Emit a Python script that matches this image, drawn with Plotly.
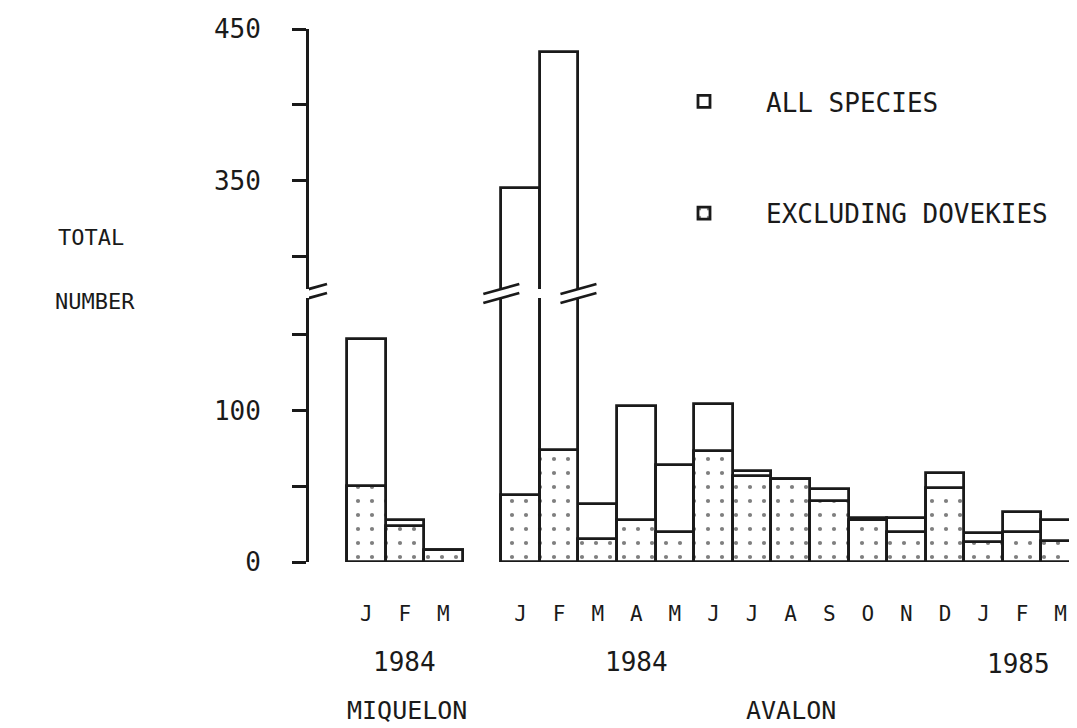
import plotly.graph_objects as go
from plotly.subplots import make_subplots

# ---------------- data ----------------
miquelon_months = ["J", "F", "M"]
miquelon_all = [147, 28, 8]
miquelon_excl = [50, 24, 8]

avalon_months = ["J", "F", "M", "A", "M", "J", "J", "A", "S", "O", "N", "D", "J", "F", "M"]
avalon_all = [345, 435, 38, 103, 64, 104, 60, 55, 48, 29, 29, 59, 19, 33, 28]
avalon_excl = [44, 74, 15, 28, 20, 73, 57, 55, 40, 28, 20, 49, 13, 20, 14]

lower_ticks = [0, 50, 100, 150]
lower_ticktext = ["0", "", "100", ""]
upper_ticks = [300, 350, 400, 450]
upper_ticktext = ["", "350", "", "450"]

series_names = ["ALL SPECIES", "EXCLUDING DOVEKIES"]
y_title = ["TOTAL", "NUMBER"]
year_labels = ["1984", "1984", "1985"]
site_labels = ["MIQUELON", "AVALON"]

# ---------------- positions (slots) ----------------
gap_slots = 1
miq_x = list(range(len(miquelon_months)))
ava_start = len(miquelon_months) + gap_slots
ava_x = [ava_start + i for i in range(len(avalon_months))]
all_x = miq_x + ava_x
all_months = miquelon_months + avalon_months
all_vals = miquelon_all + avalon_all
excl_vals = miquelon_excl + avalon_excl

# ---------------- geometry ----------------
W, H = 1077, 728
ML, MR, MT, MB = 301, 3, 21, 174
plot_h = H - MT - MB
px_per_unit = 1.515
top_val = 450
upper_bottom_px = 281   # pixel (from top) where upper panel ends
lower_top_px = 290      # pixel where lower panel starts
bottom_px = H - MB

lower_hi = (bottom_px - lower_top_px) / px_per_unit
upper_lo = top_val - (upper_bottom_px - MT) / px_per_unit
lower_dom = [0, (bottom_px - lower_top_px) / plot_h]
upper_dom = [(bottom_px - upper_bottom_px) / plot_h, 1]

x_lo = -0.5 - 0.985
x_hi = len(all_x) + gap_slots - 0.5 + 0.052

FONT = "DejaVu Sans Mono"
INK = "#1a1a1a"

fig = make_subplots(rows=2, cols=1, shared_xaxes=True, vertical_spacing=0)

for row in (1, 2):
    fig.add_trace(go.Bar(
        x=all_x, y=all_vals, width=1, name=series_names[0],
        marker=dict(color="white", line=dict(color=INK, width=2.8)),
        showlegend=(row == 2), legendgroup="a", hoverinfo="skip"), row=row, col=1)
    fig.add_trace(go.Bar(
        x=all_x, y=excl_vals, width=1, name=series_names[1],
        marker=dict(color="white", line=dict(color=INK, width=2.8),
                    pattern=dict(shape=".", fgcolor="black", bgcolor="white",
                                 size=14, solidity=0.07)),
        showlegend=(row == 2), legendgroup="b", hoverinfo="skip"), row=row, col=1)

axis_common = dict(showgrid=False, zeroline=False, showline=True, linecolor=INK,
                   linewidth=2.8, ticks="outside", ticklen=14, tickwidth=2.8,
                   tickcolor=INK, tickfont=dict(family=FONT, size=26, color=INK),
                   ticklabelstandoff=26)

fig.update_yaxes(range=[upper_lo, top_val], domain=upper_dom, tickvals=upper_ticks,
                 ticktext=upper_ticktext, row=1, col=1, **axis_common)
fig.update_yaxes(range=[0, lower_hi], domain=lower_dom, tickvals=lower_ticks,
                 ticktext=lower_ticktext, row=2, col=1, **axis_common)

fig.update_xaxes(range=[x_lo, x_hi], showgrid=False, zeroline=False, showline=False,
                 ticks="", showticklabels=False, row=1, col=1)
fig.update_xaxes(range=[x_lo, x_hi], showgrid=False, zeroline=False, showline=False,
                 ticks="", tickvals=all_x, ticktext=all_months,
                 tickfont=dict(family=FONT, size=21, color=INK),
                 ticklabelstandoff=37, row=2, col=1)

# break marks (//) on the y axis line and on the two clipped bars
def brk(xref, xanchor):
    for yanc in (upper_dom[0], lower_dom[1]):
        fig.add_shape(type="line", xref=xref, xsizemode="pixel", xanchor=xanchor,
                      x0=-18, x1=18, yref="paper", ysizemode="pixel", yanchor=yanc,
                      y0=-5, y1=5, line=dict(color=INK, width=2.8))

brk("x2", x_lo)
brk("x2", ava_x[0] - 0.5)
brk("x2", ava_x[1] + 0.5)

def py(pix):
    return (bottom_px - pix) / plot_h

def px_(pix):
    return (pix - ML) / (W - ML - MR)

ann = []
ann.append(dict(text=y_title[0], xref="paper", x=px_(118), xanchor="right",
                yref="paper", y=py(229), yanchor="middle", size=22))
ann.append(dict(text=y_title[1], xref="paper", x=px_(129), xanchor="right",
                yref="paper", y=py(293), yanchor="middle", size=22))
ann.append(dict(text=year_labels[0], xref="x2", x=miq_x[1], xanchor="center",
                yref="paper", y=py(654), yanchor="middle", size=26))
ann.append(dict(text=year_labels[1], xref="x2", x=7.0, xanchor="center",
                yref="paper", y=py(654), yanchor="middle", size=26))
ann.append(dict(text=year_labels[2], xref="x2", x=16.9, xanchor="center",
                yref="paper", y=py(656), yanchor="middle", size=26))
ann.append(dict(text=site_labels[0], xref="x2", x=1.05, xanchor="center",
                yref="paper", y=py(702), yanchor="middle", size=25))
ann.append(dict(text=site_labels[1], xref="x2", x=11.0, xanchor="center",
                yref="paper", y=py(702), yanchor="middle", size=25))
for a in ann:
    size = a.pop("size")
    fig.add_annotation(showarrow=False, font=dict(family=FONT, size=size, color=INK), **a)

fig.update_layout(
    width=W, height=H, margin=dict(l=ML, r=MR, t=MT, b=MB),
    paper_bgcolor="white", plot_bgcolor="white",
    barmode="overlay", bargap=0,
    font=dict(family=FONT, color=INK),
    legend=dict(x=px_(634), xanchor="left", y=py(70), yanchor="top",
                orientation="v", itemwidth=114, tracegroupgap=75,
                font=dict(family=FONT, size=26, color=INK),
                bgcolor="rgba(0,0,0,0)", traceorder="grouped"),
)

fig.write_html("out.html")
